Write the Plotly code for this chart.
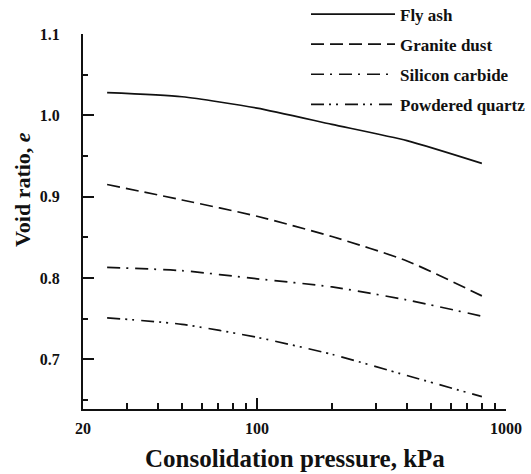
import plotly.graph_objects as go

# Consolidation test results: void ratio vs. applied pressure
pressure_kpa = [25, 50, 100, 200, 400, 800]
fly_ash = [1.028, 1.023, 1.009, 0.989, 0.969, 0.941]
granite_dust = [0.915, 0.896, 0.876, 0.851, 0.821, 0.778]
silicon_carbide = [0.813, 0.809, 0.799, 0.789, 0.773, 0.753]
powdered_quartz = [0.751, 0.743, 0.727, 0.706, 0.680, 0.654]

series_names = ["Fly ash", "Granite dust", "Silicon carbide", "Powdered quartz"]
series_values = [fly_ash, granite_dust, silicon_carbide, powdered_quartz]
dash_styles = ["solid", "13px,6px", "13px,6px,2px,7px", "13px,5px,2px,5px,2px,7px"]

x_tick_vals = [20, 100, 1000]
x_tick_text = ["20", "100", "1000"]
x_minor_vals = [30, 40, 50, 60, 70, 80, 90, 200, 300, 400, 500, 600, 700, 800, 900]
y_tick_vals = [0.7, 0.8, 0.9, 1.0, 1.1]
y_tick_text = ["0.7", "0.8", "0.9", "1.0", "1.1"]
y_minor_vals = [0.65, 0.75, 0.85, 0.95, 1.05]

INK = "#111111"
SERIF = "Liberation Serif, Times New Roman, serif"

fig = go.Figure()
for i, (name, vals, dash) in enumerate(zip(series_names, series_values, dash_styles)):
    fig.add_trace(go.Scatter(
        x=pressure_kpa, y=vals, name=name, mode="lines",
        line=dict(color=INK, width=1.7, dash=dash, shape="spline", smoothing=0.6),
        legendgroup=f"g{i}",
    ))

axis_common = dict(
    showline=True, linecolor=INK, linewidth=2, mirror=False,
    ticks="inside", ticklen=11, tickwidth=1.5, tickcolor=INK,
    showgrid=False, zeroline=False,
    tickfont=dict(family=SERIF, size=16, color=INK, weight="bold"),
)

fig.update_xaxes(
    type="log", range=[1.30103, 3.0],
    tickmode="array", tickvals=x_tick_vals, ticktext=x_tick_text,
    ticklabelstandoff=4,
    minor=dict(tickmode="array", tickvals=x_minor_vals, ticks="inside",
               ticklen=6, tickwidth=1.5, tickcolor=INK, showgrid=False),
    **axis_common,
)
fig.update_yaxes(
    range=[0.6388, 1.1002],
    tickmode="array", tickvals=y_tick_vals, ticktext=y_tick_text,
    ticklabelstandoff=18,
    minor=dict(tickmode="array", tickvals=y_minor_vals, ticks="inside",
               ticklen=5, tickwidth=1.5, tickcolor=INK, showgrid=False),
    **axis_common,
)

fig.add_annotation(
    text="Consolidation pressure, kPa", xref="paper", yref="paper",
    x=0.5, y=-0.1307, xanchor="center", yanchor="middle",
    showarrow=False, font=dict(family=SERIF, size=25, color=INK, weight="bold"),
)
fig.add_annotation(
    text="Void ratio, <i>e</i>", xref="paper", yref="paper",
    x=-0.144, y=0.584, xanchor="center", yanchor="middle", textangle=-90,
    showarrow=False, font=dict(family=SERIF, size=22, color=INK, weight="bold"),
)

fig.update_layout(
    width=531, height=474,
    margin=dict(l=83, r=25, t=34, b=65, autoexpand=False),
    paper_bgcolor="white", plot_bgcolor="white",
    showlegend=True,
    legend=dict(
        x=0.5272, y=1.1, xanchor="left", yanchor="top",
        bgcolor="rgba(0,0,0,0)", borderwidth=0,
        itemwidth=84, tracegroupgap=5,
        font=dict(family=SERIF, size=17, color=INK, weight="bold"),
    ),
)

fig.write_html("out.html")
